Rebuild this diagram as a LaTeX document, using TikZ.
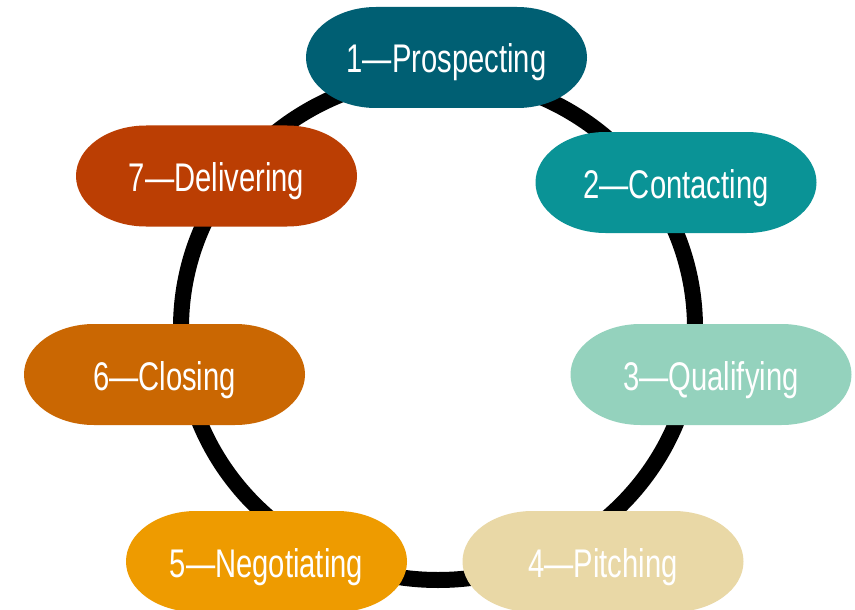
\documentclass[tikz,border=0pt]{standalone}
\usepackage{fontspec}
\setmainfont{Liberation Sans}[FakeStretch=0.73]
\definecolor{cProspect}{HTML}{005F73}
\definecolor{cContact}{HTML}{0A9396}
\definecolor{cQualify}{HTML}{94D2BD}
\definecolor{cPitch}{HTML}{E9D8A6}
\definecolor{cNegot}{HTML}{EE9B00}
\definecolor{cClose}{HTML}{CA6702}
\definecolor{cDeliver}{HTML}{BB3E03}
\tikzset{
  stage/.style={
    minimum width=281pt, minimum height=101pt, inner sep=0pt,
    text height=31pt, text depth=0pt,
    text=white, font=\fontsize{40}{48}\selectfont,
    path picture={
      \fill[#1]
        ([xshift=70pt]path picture bounding box.north west)
        -- ([xshift=-70pt]path picture bounding box.north east)
        arc[start angle=90, end angle=-90, x radius=70pt, y radius=50.5pt]
        -- ([xshift=70pt]path picture bounding box.south west)
        arc[start angle=270, end angle=90, x radius=70pt, y radius=50.5pt]
        -- cycle;
    }
  },
  cycleline/.style={line width=16pt, black}
}
\begin{document}
\begin{tikzpicture}[x=1pt, y=-1pt]
  \useasboundingbox[fill=white] (0,0) rectangle (855,610);
  % the cycle ring behind the stages
  \draw[cycleline] (438,328) ellipse[x radius=257pt, y radius=252pt];
  % the seven stages
  \node[stage=cProspect] (n1) at (446.5,57.5) {1—Prospecting};
  \node[stage=cContact]  (n2) at (676,182.5)  {2—Contacting};
  \node[stage=cQualify]  (n3) at (711,374.5)  {3—Qualifying};
  \node[stage=cPitch]    (n4) at (603,561.5)  {4—Pitching};
  \node[stage=cNegot]    (n5) at (266.5,561.5) {5—Negotiating};
  \node[stage=cClose]    (n6) at (164.5,374.5) {6—Closing};
  \node[stage=cDeliver]  (n7) at (216.5,176)  {7—Delivering};
\end{tikzpicture}
\end{document}
